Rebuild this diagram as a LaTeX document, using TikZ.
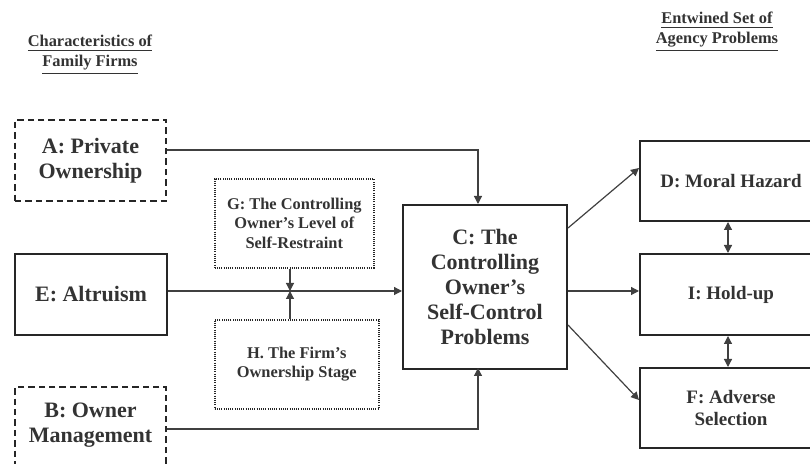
\documentclass[tikz,border=0pt]{standalone}
\usepackage{fontspec}
\setmainfont{Liberation Serif}
\usetikzlibrary{arrows.meta,positioning,calc}

\begin{document}
\begin{tikzpicture}[x=0.5pt, y=-0.5pt, every node/.style = {shape=rectangle, align=center, inner sep=0pt, text=black!80}]
			\tikzset{ boxtext/.style = { font=\fontsize{11}{12.5}\selectfont\bfseries } }
			\tikzset{ smalltext/.style = { font=\fontsize{9.5}{11}\selectfont\bfseries } }
			\tikzset{ modtext/.style = { font=\fontsize{8.2}{9.8}\selectfont\bfseries } }
			\tikzset{ headtext/.style = { font=\fontsize{8.2}{10}\selectfont\bfseries } }

			\tikzset{ plainbox/.style = { draw=black!85, line width=1pt, anchor=north west } }
			\tikzset{ dashbox/.style = { plainbox, dash pattern=on 3.2pt off 2pt } }
			\tikzset{ dotbox/.style = { draw=black!85, line width=0.8pt, anchor=north west, dash pattern=on 0.5pt off 0.6pt } }

			\tikzset{ conn/.style = { draw=black!75, line width=0.6pt, -{Triangle[length=4pt,width=4pt]} } }
			\tikzset{ both/.style = { conn, {Triangle[length=4pt,width=4pt]}-{Triangle[length=4pt,width=4pt]} } }

			\useasboundingbox (0,0) rectangle (810,464);
			\clip (0,0) rectangle (810,464);

			% headings
			\node [headtext] (leftHead) at (90,55) {\underline{Characteristics of}\\\underline{Family Firms}};
			\node [headtext] (rightHead) at (717,32) {\underline{Entwined Set of}\\\underline{Agency Problems}};

			% characteristics
			\node [dashbox, boxtext, minimum width=75.5pt, minimum height=40.5pt] (A) at (14,119) {A: Private\\Ownership};
			\node [plainbox, boxtext, minimum width=76pt, minimum height=40.5pt] (E) at (14,253) {E: Altruism};
			\node [dashbox, boxtext, minimum width=75.5pt, minimum height=46pt, text depth=10pt] (B) at (14,386) {B: Owner\\Management};

			% moderators
			\node [dotbox, modtext, minimum width=79.5pt, minimum height=44.5pt] (G) at (214,178) {G: The Controlling\\Owner's Level of\\Self-Restraint};
			\node [dotbox, modtext, minimum width=82pt, minimum height=44.5pt] (H) at (214,319) {H. The Firm's\\Ownership Stage};

			% central problem
			\node [plainbox, boxtext, minimum width=82pt, minimum height=82pt] (C) at (402,204) {C: The\\Controlling\\Owner's\\Self-Control\\Problems};

			% agency problems
			\node [plainbox, smalltext, minimum width=91pt, minimum height=40pt] (D) at (639,140) {D: Moral Hazard};
			\node [plainbox, smalltext, minimum width=91pt, minimum height=40.5pt] (I) at (639,253) {I: Hold-up};
			\node [plainbox, smalltext, minimum width=91pt, minimum height=40pt] (F) at (639,367) {F: Adverse\\Selection};

			\coordinate (mid) at (290,291);
			\coordinate (cTop) at (478,204);
			\coordinate (cBot) at (478,368);

			\draw [conn] (A.east |- 0,150) -| (cTop);
			\draw [conn] (B.east |- 0,429) -| (cBot);
			\draw [conn] (E.east |- mid) -- (C.west |- mid);
			\draw [conn] (G.south -| mid) -- (mid);
			\draw [conn] (H.north -| mid) -- (mid);

			\draw [conn] (C.east |- 0,228) -- (D.west |- 0,168);
			\draw [conn] (C.east |- mid) -- (I.west |- mid);
			\draw [conn] (C.east |- 0,325) -- (F.west |- 0,400);

			\draw [both] (D.south -| 728,0) -- (I.north -| 728,0);
			\draw [both] (I.south -| 728,0) -- (F.north -| 728,0);
		\end{tikzpicture}
\end{document}
